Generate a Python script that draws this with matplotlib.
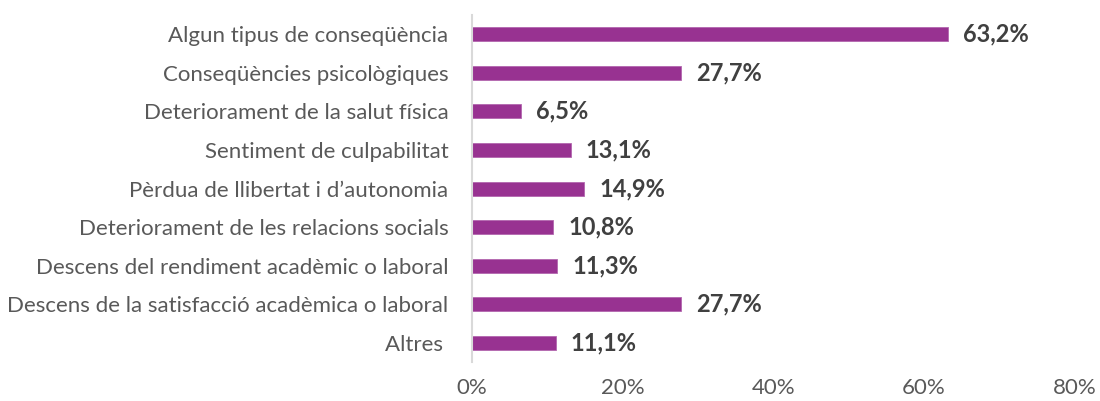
import numpy as np
import matplotlib
matplotlib.use("Agg")
import matplotlib.pyplot as plt
from matplotlib.ticker import FuncFormatter

categories = [
    "Algun tipus de conseqüència",
    "Conseqüències psicològiques",
    "Deteriorament de la salut física",
    "Sentiment de culpabilitat",
    "Pèrdua de llibertat i d\u2019autonomia",
    "Deteriorament de les relacions socials",
    "Descens del rendiment acadèmic o laboral",
    "Descens de la satisfacció acadèmica o laboral",
    "Altres ",
]
values = [63.2, 27.7, 6.5, 13.1, 14.9, 10.8, 11.3, 27.7, 11.1]
x_ticks = [0, 20, 40, 60, 80]

plt.rcParams["font.family"] = ["Lato", "DejaVu Sans"]

fig = plt.figure(figsize=(11, 4.01), dpi=100)
ax = fig.add_axes([0.429, 0.0965, 0.548, 0.8665])

y = np.arange(len(categories))
ax.barh(y, values, height=0.36, color="#983291", edgecolor="#B366AE", linewidth=0.6)

for yi, v in zip(y, values):
    ax.text(v + 2.0, yi, f"{v:.1f}%".replace(".", ","), va="center", ha="left",
            fontsize=17, fontweight="bold", color="#404040")

ax.set_ylim(len(categories) - 0.5, -0.5)
ax.set_xlim(0, 80)
ax.set_yticks(y)
ax.set_yticklabels(categories, fontsize=16, color="#595959")
ax.set_xticks(x_ticks)
ax.xaxis.set_major_formatter(FuncFormatter(lambda v, p: f"{v:.0f}%"))
ax.tick_params(axis="x", labelsize=16, labelcolor="#595959", length=0, pad=11)
ax.tick_params(axis="y", length=0, pad=17)

for s in ["top", "right", "bottom"]:
    ax.spines[s].set_visible(False)
ax.spines["left"].set_color("#D9D9D9")
ax.spines["left"].set_linewidth(1.5)

fig.savefig("out.png", dpi=100)
